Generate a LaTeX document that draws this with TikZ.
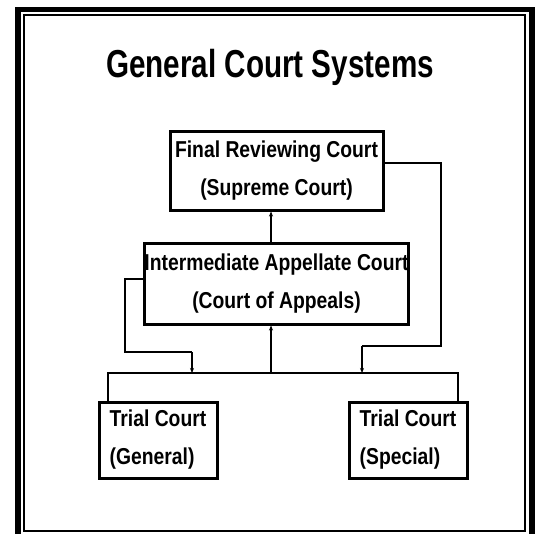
\documentclass[tikz,border=0pt]{standalone}
\usepackage{fontspec}
\setmainfont{Liberation Sans}[FakeStretch=0.84]
\newfontfamily\titlefont{Liberation Sans}[FakeStretch=0.76]
\usetikzlibrary{arrows.meta,calc}

\tikzset{
  court/.style={draw=black, line width=3pt, fill=white, inner sep=0pt,
    font=\fontsize{23}{38}\selectfont\bfseries, text=black},
  conn/.style={draw=black, line width=1.2pt},
  up/.style={conn, -{Stealth[length=5pt,width=4pt]}},
}

\begin{document}
\begin{tikzpicture}[x=1pt,y=-1pt]
  \useasboundingbox (0,0) rectangle (538,533);
  \fill[white] (0,0) rectangle (538,533);

  % double page frame
  \draw[line width=5.5pt] (18,9.5) rectangle (532,545);
  \draw[line width=2pt] (24,15) rectangle (525,531);

  % heading
  \node[anchor=base, font=\titlefont\fontsize{39}{40}\selectfont\bfseries] (title) at (270,77) {General Court Systems};

  % courts
  \node[court, align=center, minimum width=213, minimum height=79] (final) at (276.5,170.5)
    {Final Reviewing Court\\(Supreme Court)};
  \node[court, align=center, minimum width=263, minimum height=81] (inter) at (276.5,283.5)
    {Intermediate Appellate Court\\(Court of Appeals)};
  \node[court, align=left, minimum width=118, minimum height=76] (tgen) at (158,440)
    {Trial Court\\(General)};
  \node[court, align=left, minimum width=118, minimum height=76] (tspec) at (408,440)
    {Trial Court\\(Special)};

  % routing points
  \coordinate (trunk) at (271,373);
  \coordinate (busL) at (108,373);
  \coordinate (busR) at (458,373);
  \coordinate (lA) at (125,279);
  \coordinate (lB) at (192,352);
  \coordinate (rA) at (441,163);
  \coordinate (rB) at (362,346);

  % bus joining the trial courts
  \draw[conn] (tgen.north -| busL) -- (busL) -- (busR) -- (tspec.north -| busR);

  % appeals upward
  \draw[up] (trunk) -- (inter.south -| trunk);
  \draw[up] (inter.north -| trunk) -- (final.south -| trunk);

  % remands downward
  \draw[conn] (inter.west |- lA) -- (lA) |- (lB);
  \draw[up] (lB) -- (lB |- busL);
  \draw[conn] (final.east |- rA) -- (rA) |- (rB);
  \draw[up] (rB) -- (rB |- busR);
\end{tikzpicture}
\end{document}
